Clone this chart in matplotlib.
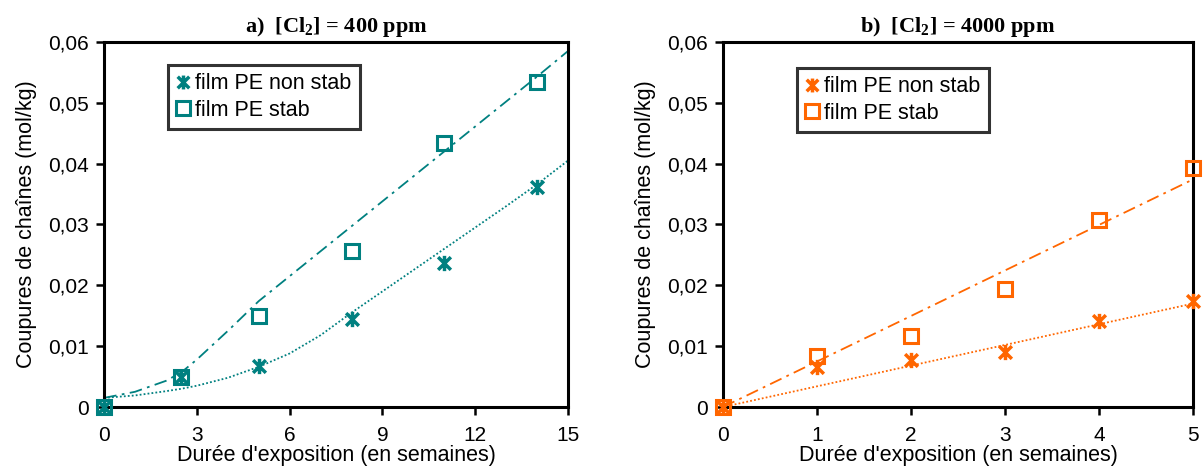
import numpy as np
import matplotlib
matplotlib.use('Agg')
import matplotlib.pyplot as plt
from matplotlib.path import Path
from matplotlib.lines import Line2D

# data
weeks_a = [0, 2.5, 5, 8, 11, 14]
nonstab_a = [0, 0.005, 0.0068, 0.0145, 0.0237, 0.0362]
stab_a = [0, 0.0049, 0.0150, 0.0256, 0.0433, 0.0534]

trend_x_a = [0, 1, 2, 2.5, 3, 4, 5, 6, 7, 8, 9, 10, 11, 12, 13, 14, 15]
trend_stab_a = [0.0015, 0.0025, 0.0043, 0.0057, 0.0078, 0.0125, 0.0174, 0.0215,
                0.0256, 0.0297, 0.0338, 0.0379, 0.0420, 0.0461, 0.0502, 0.0543, 0.0585]
trend_nonstab_a = [0.0015, 0.0019, 0.0026, 0.0030, 0.0035, 0.0048, 0.0066, 0.0088,
                   0.0118, 0.0155, 0.0190, 0.0225, 0.0260, 0.0295, 0.0330, 0.0366, 0.0405]

weeks_b = [0, 1, 2, 3, 4, 5]
nonstab_b = [0, 0.0066, 0.0078, 0.0090, 0.0141, 0.0175]
stab_b = [0, 0.0084, 0.0116, 0.0194, 0.0307, 0.0393]

trend_x_b = [0, 5]
trend_stab_b = [0, 0.0374]
trend_nonstab_b = [0, 0.0170]

yticks = [0, 0.01, 0.02, 0.03, 0.04, 0.05, 0.06]
ytick_labels = ['0', '0,01', '0,02', '0,03', '0,04', '0,05', '0,06']

TEAL = '#008080'
ORANGE = '#FF6600'

plt.rcParams['font.family'] = ['Liberation Sans', 'DejaVu Sans']

# Excel-like star marker: X with a vertical bar
star = Path([(-1, -1), (1, 1), (-1, 1), (1, -1), (0, -1.2), (0, 1.2)],
            [Path.MOVETO, Path.LINETO, Path.MOVETO, Path.LINETO, Path.MOVETO, Path.LINETO])


def draw_panel(ax, x, nonstab, stab, tx, tstab, tnonstab, color, xmax, xticks, title, leg_anchor):
    ax.plot(tx, tstab, color=color, lw=1.3, dashes=[7, 3, 1.5, 3])
    ax.plot(tx, tnonstab, color=color, lw=1.3, linestyle=(0, (1, 1.2)))
    ax.plot(x, nonstab, linestyle='none', marker=star, ms=11, mec=color, mew=2.5,
            clip_on=False, zorder=5)
    ax.plot(x, stab, linestyle='none', marker='s', ms=10, mfc='none', mec=color, mew=2.2,
            clip_on=False, zorder=5)

    ax.set_xlim(0, xmax)
    ax.set_ylim(0, 0.06)
    ax.set_xticks(xticks)
    ax.set_yticks(yticks)
    ax.set_yticklabels(ytick_labels)
    ax.tick_params(labelsize=15, width=1.8, length=6, direction='out', top=False, right=False)
    ax.tick_params(axis='x', pad=8)
    ax.tick_params(axis='y', pad=5)
    for s in ax.spines.values():
        s.set_linewidth(2.2)
    ax.set_xlabel("Durée d'exposition (en semaines)", fontsize=15.5, labelpad=0)
    ax.set_ylabel('Coupures de chaînes (mol/kg)', fontsize=15.5, labelpad=8)
    ax.set_title(title, fontsize=16, fontweight='bold', family='Liberation Serif', pad=7)

    handles = [Line2D([], [], linestyle='none', marker=star, ms=10, mec=color, mew=2.5),
               Line2D([], [], linestyle='none', marker='s', ms=10, mfc='none', mec=color, mew=2.2)]
    leg = ax.legend(handles, ['film PE non stab', 'film PE stab'], loc='upper left',
                    bbox_to_anchor=leg_anchor, fontsize=15.5, frameon=True, fancybox=False,
                    handlelength=0.6, handletextpad=0.25, borderpad=0.4, labelspacing=0.25,
                    borderaxespad=0)
    leg.get_frame().set_edgecolor('black')
    leg.get_frame().set_linewidth(2.2)


fig = plt.figure(figsize=(12.03, 4.73), dpi=100)
ax_a = fig.add_axes([0.0865, 0.1395, 0.3857, 0.772])
ax_b = fig.add_axes([0.601, 0.1395, 0.3907, 0.772])

draw_panel(ax_a, weeks_a, nonstab_a, stab_a, trend_x_a, trend_stab_a, trend_nonstab_a,
           TEAL, 15, [0, 3, 6, 9, 12, 15], r'a)  [Cl$\mathregular{_2}$] = 400 ppm', (0.138, 0.937))
draw_panel(ax_b, weeks_b, nonstab_b, stab_b, trend_x_b, trend_stab_b, trend_nonstab_b,
           ORANGE, 5, [0, 1, 2, 3, 4, 5], r'b)  [Cl$\mathregular{_2}$] = 4000 ppm', (0.157, 0.929))

fig.savefig('out.png', dpi=100)
